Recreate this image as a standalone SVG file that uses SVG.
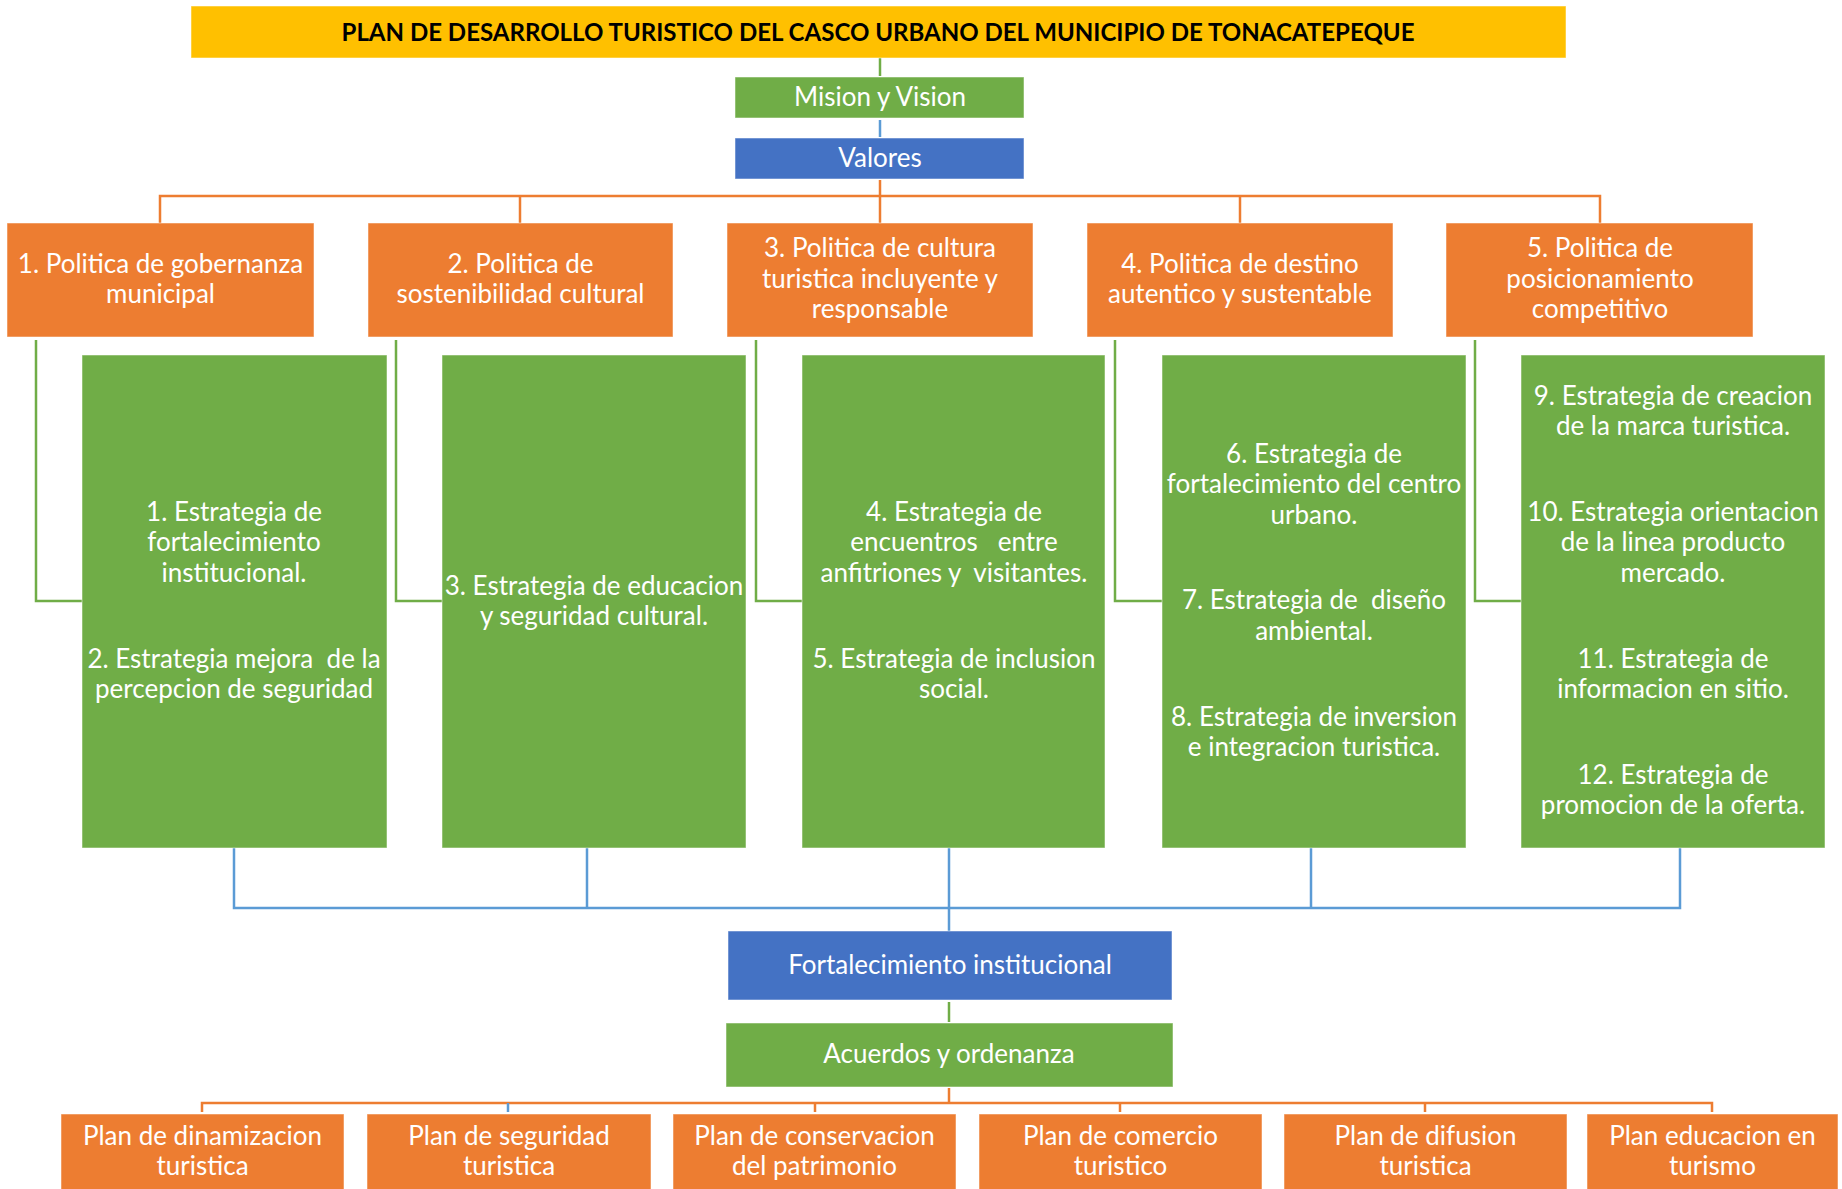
<svg xmlns="http://www.w3.org/2000/svg" width="1842" height="1189" viewBox="0 0 1842 1189">
<style>
  .t { font-family: Lato, "Open Sans", "Liberation Sans", sans-serif; font-size: 26px; fill: #ffffff; text-anchor: middle; }
  .title { font-family: Lato, "Liberation Sans", sans-serif; font-size: 25px; font-weight: bold; fill: #000000; text-anchor: middle; }
  .yellow { fill: #FFC000; }
  .green { fill: #70AD47; }
  .blue { fill: #4472C4; }
  .orange { fill: #ED7D31; }
  .box { stroke: #ffffff; stroke-opacity: 0.5; stroke-width: 1; }
  .lo { stroke: #ED7D31; stroke-width: 2.5; fill: none; }
  .lg { stroke: #70AD47; stroke-width: 2.5; fill: none; }
  .lb { stroke: #5B9BD5; stroke-width: 2.5; fill: none; }
</style>
<rect width="1842" height="1189" fill="#ffffff"/>

<g id="connectors">
  <line class="lg" x1="880" y1="58" x2="880" y2="76"/>
  <line class="lb" x1="880" y1="120" x2="880" y2="137"/>
  <line class="lo" x1="880" y1="180" x2="880" y2="223"/>
  <path class="lo" d="M160,223 V196 H1600 V223"/>
  <line class="lo" x1="520" y1="196" x2="520" y2="223"/>
  <line class="lo" x1="1240" y1="196" x2="1240" y2="223"/>
  <path class="lg" d="M36,340 V601 H82"/>
  <path class="lg" d="M396,340 V601 H442"/>
  <path class="lg" d="M756,340 V601 H802"/>
  <path class="lg" d="M1115,340 V601 H1162"/>
  <path class="lg" d="M1475,340 V601 H1521"/>
  <path class="lb" d="M234,848 V908 H1680 V848"/>
  <line class="lb" x1="587" y1="848" x2="587" y2="908"/>
  <line class="lb" x1="1311" y1="848" x2="1311" y2="908"/>
  <line class="lb" x1="949" y1="848" x2="949" y2="931"/>
  <line class="lg" x1="949" y1="1002" x2="949" y2="1022"/>
  <line class="lo" x1="949" y1="1088" x2="949" y2="1103"/>
  <path class="lo" d="M202,1112 V1103 H1712 V1112"/>
  <line class="lb" x1="508" y1="1103" x2="508" y2="1112"/>
  <line class="lo" x1="815" y1="1103" x2="815" y2="1112"/>
  <line class="lo" x1="1120" y1="1103" x2="1120" y2="1112"/>
  <line class="lo" x1="1425" y1="1103" x2="1425" y2="1112"/>
</g>

<g id="title">
  <rect class="yellow box" x="191" y="6" width="1375" height="52"/>
  <text class="title" x="878" y="41" textLength="1073" lengthAdjust="spacingAndGlyphs">PLAN DE DESARROLLO TURISTICO DEL CASCO URBANO DEL MUNICIPIO DE TONACATEPEQUE</text>
</g>

<g id="mision">
  <rect class="green box" x="735" y="77" width="289" height="41"/>
  <text class="t" x="880" y="106">Mision y Vision</text>
</g>

<g id="valores">
  <rect class="blue box" x="735" y="138" width="289" height="41"/>
  <text class="t" x="880" y="167">Valores</text>
</g>

<g id="politica1">
  <rect class="orange box" x="7" y="223" width="307" height="114"/>
  <text class="t" x="160.5" y="273">1. Politica de gobernanza</text>
  <text class="t" x="160.5" y="303">municipal</text>
</g>
<g id="politica2">
  <rect class="orange box" x="368" y="223" width="305" height="114"/>
  <text class="t" x="520.5" y="273">2. Politica de</text>
  <text class="t" x="520.5" y="303">sostenibilidad cultural</text>
</g>
<g id="politica3">
  <rect class="orange box" x="727" y="223" width="306" height="114"/>
  <text class="t" x="880" y="257">3. Politica de cultura</text>
  <text class="t" x="880" y="288">turistica incluyente y</text>
  <text class="t" x="880" y="318">responsable</text>
</g>
<g id="politica4">
  <rect class="orange box" x="1087" y="223" width="306" height="114"/>
  <text class="t" x="1240" y="273">4. Politica de destino</text>
  <text class="t" x="1240" y="303">autentico y sustentable</text>
</g>
<g id="politica5">
  <rect class="orange box" x="1446" y="223" width="307" height="114"/>
  <text class="t" x="1600" y="257">5. Politica de</text>
  <text class="t" x="1600" y="288">posicionamiento</text>
  <text class="t" x="1600" y="318">competitivo</text>
</g>

<g id="estrategiaA">
  <rect class="green box" x="82" y="355" width="305" height="493"/>
  <text class="t" x="234" y="521">1. Estrategia de</text>
  <text class="t" x="234" y="551">fortalecimiento</text>
  <text class="t" x="234" y="582">institucional.</text>
  <text class="t" x="234" y="668" xml:space="preserve">2. Estrategia mejora  de la</text>
  <text class="t" x="234" y="698">percepcion de seguridad</text>
</g>
<g id="estrategiaB">
  <rect class="green box" x="442" y="355" width="304" height="493"/>
  <text class="t" x="594" y="595">3. Estrategia de educacion</text>
  <text class="t" x="594" y="625">y seguridad cultural.</text>
</g>
<g id="estrategiaC">
  <rect class="green box" x="802" y="355" width="303" height="493"/>
  <text class="t" x="954" y="521">4. Estrategia de</text>
  <text class="t" x="954" y="551" xml:space="preserve">encuentros   entre</text>
  <text class="t" x="954" y="582" xml:space="preserve">anfitriones y  visitantes.</text>
  <text class="t" x="954" y="668">5. Estrategia de inclusion</text>
  <text class="t" x="954" y="698">social.</text>
</g>
<g id="estrategiaD">
  <rect class="green box" x="1162" y="355" width="304" height="493"/>
  <text class="t" x="1314" y="463">6. Estrategia de</text>
  <text class="t" x="1314" y="493">fortalecimiento del centro</text>
  <text class="t" x="1314" y="524">urbano.</text>
  <text class="t" x="1314" y="609" xml:space="preserve">7. Estrategia de  diseño</text>
  <text class="t" x="1314" y="640">ambiental.</text>
  <text class="t" x="1314" y="726">8. Estrategia de inversion</text>
  <text class="t" x="1314" y="756">e integracion turistica.</text>
</g>
<g id="estrategiaE">
  <rect class="green box" x="1521" y="355" width="304" height="493"/>
  <text class="t" x="1673" y="405">9. Estrategia de creacion</text>
  <text class="t" x="1673" y="435">de la marca turistica.</text>
  <text class="t" x="1673" y="521">10. Estrategia orientacion</text>
  <text class="t" x="1673" y="551">de la linea producto</text>
  <text class="t" x="1673" y="582">mercado.</text>
  <text class="t" x="1673" y="668">11. Estrategia de</text>
  <text class="t" x="1673" y="698">informacion en sitio.</text>
  <text class="t" x="1673" y="784">12. Estrategia de</text>
  <text class="t" x="1673" y="814">promocion de la oferta.</text>
</g>

<g id="fortalecimiento">
  <rect class="blue box" x="728" y="931" width="444" height="69"/>
  <text class="t" x="950" y="974">Fortalecimiento institucional</text>
</g>
<g id="acuerdos">
  <rect class="green box" x="726" y="1023" width="447" height="64"/>
  <text class="t" x="949" y="1063">Acuerdos y ordenanza</text>
</g>

<g id="plan1">
  <rect class="orange box" x="61" y="1114" width="283" height="80"/>
  <text class="t" x="202.5" y="1145">Plan de dinamizacion</text>
  <text class="t" x="202.5" y="1175">turistica</text>
</g>
<g id="plan2">
  <rect class="orange box" x="367" y="1114" width="284" height="80"/>
  <text class="t" x="509" y="1145">Plan de seguridad</text>
  <text class="t" x="509" y="1175">turistica</text>
</g>
<g id="plan3">
  <rect class="orange box" x="673" y="1114" width="283" height="80"/>
  <text class="t" x="814.5" y="1145">Plan de conservacion</text>
  <text class="t" x="814.5" y="1175">del patrimonio</text>
</g>
<g id="plan4">
  <rect class="orange box" x="979" y="1114" width="283" height="80"/>
  <text class="t" x="1120.5" y="1145">Plan de comercio</text>
  <text class="t" x="1120.5" y="1175">turistico</text>
</g>
<g id="plan5">
  <rect class="orange box" x="1284" y="1114" width="283" height="80"/>
  <text class="t" x="1425.5" y="1145">Plan de difusion</text>
  <text class="t" x="1425.5" y="1175">turistica</text>
</g>
<g id="plan6">
  <rect class="orange box" x="1587" y="1114" width="251" height="80"/>
  <text class="t" x="1712.5" y="1145">Plan educacion en</text>
  <text class="t" x="1712.5" y="1175">turismo</text>
</g>
</svg>
